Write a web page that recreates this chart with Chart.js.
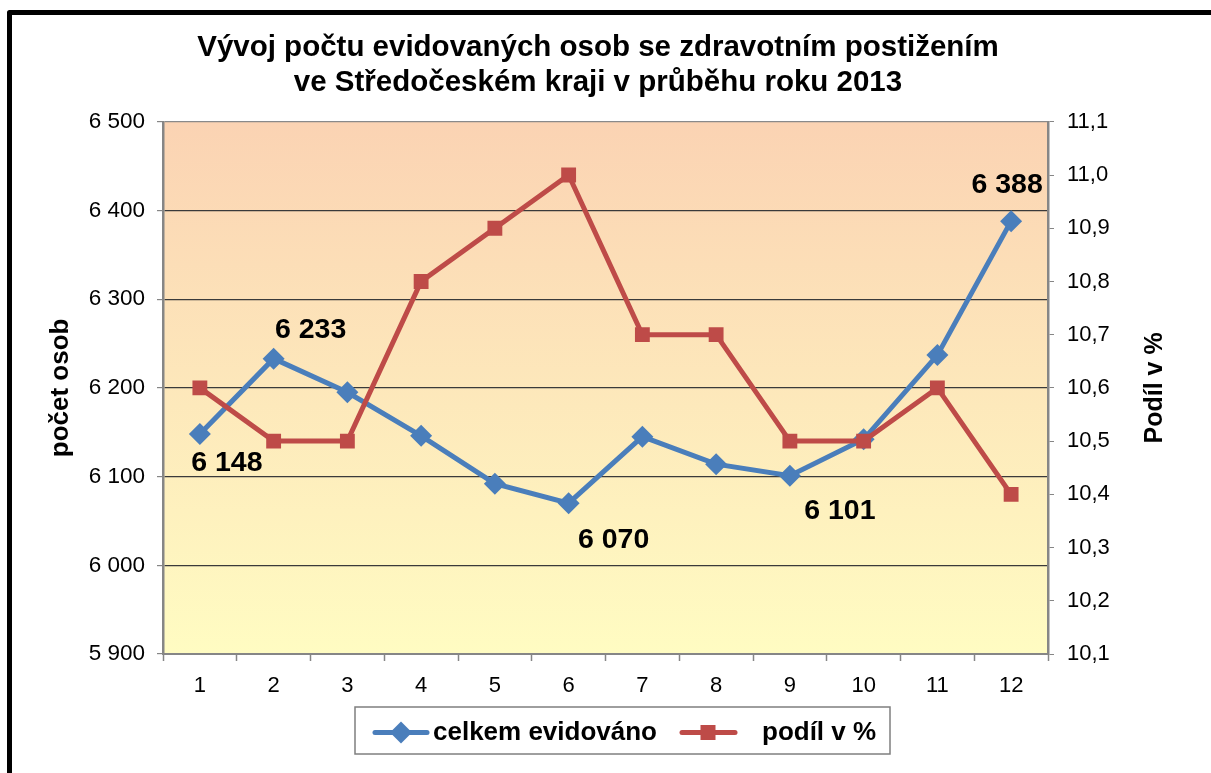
<!DOCTYPE html>
<html lang="cs">
<head>
  <meta charset="UTF-8" />
  <title>Vývoj počtu evidovaných osob se zdravotním postižením</title>
  <script src="https://cdn.jsdelivr.net/npm/chart.js"></script>
  <style>
    body { margin: 0; background: #fff; }
    #wrap { width: 1211px; height: 773px; position: relative; }
  </style>
</head>
<body>
  <div id="wrap"><canvas id="chart" width="1211" height="773"></canvas></div>

  <script>
    // data
    const months = ['1', '2', '3', '4', '5', '6', '7', '8', '9', '10', '11', '12'];
    const celkem = [6148, 6233, 6195, 6146, 6092, 6070, 6145, 6114, 6101, 6142, 6237, 6388];
    const podil = [10.6, 10.5, 10.5, 10.8, 10.9, 11.0, 10.7, 10.7, 10.5, 10.5, 10.6, 10.4];
    const labelledIdx = [0, 1, 5, 8, 11];          // points with a value label
    const titleLines = ['Vývoj počtu evidovaných osob se zdravotním postižením',
                        've Středočeském kraji v průběhu roku 2013'];

    const BLUE = '#4A7EBB';
    const RED = '#BE4B48';
    const FONT = '"Liberation Sans", Arial, sans-serif';

    // where the value labels sit relative to their point
    const labelOffset = { 0: [27, 29], 1: [37, -28], 5: [45, 37], 8: [50, 35], 11: [-4, -36] };

    const fmt = v => String(v).replace(/\B(?=(\d{3})+(?!\d))/g, ' ');

    const decor = {
      id: 'decor',
      beforeDraw(chart) {
        const { ctx, chartArea: a } = chart;
        const g = ctx.createLinearGradient(0, a.top, 0, a.bottom);
        g.addColorStop(0, '#FBD3B3');
        g.addColorStop(1, '#FFFCC2');
        ctx.save();
        ctx.fillStyle = g;
        ctx.fillRect(a.left, a.top, a.right - a.left, a.bottom - a.top);
        ctx.restore();
      },
      afterDraw(chart) {
        const { ctx, chartArea: a } = chart;
        ctx.save();

        // value labels
        const meta = chart.getDatasetMeta(1);
        ctx.font = 'bold 28.5px ' + FONT;
        ctx.fillStyle = '#000';
        ctx.textAlign = 'center';
        ctx.textBaseline = 'middle';
        labelledIdx.forEach(i => {
          const p = meta.data[i];
          const o = labelOffset[i];
          ctx.fillText(fmt(celkem[i]), p.x + o[0], p.y + o[1]);
        });

        // right axis title, reading bottom to top
        ctx.save();
        ctx.translate(1155, (a.top + a.bottom) / 2);
        ctx.rotate(-Math.PI / 2);
        ctx.font = 'bold 25px ' + FONT;
        ctx.fillText('Podíl v %', 0, 0);
        ctx.restore();

        // legend
        const lx = 355, ly = 707, lw = 535, lh = 47, cy = ly + lh / 2 + 2;
        ctx.fillStyle = '#fff';
        ctx.fillRect(lx, ly, lw, lh);
        ctx.strokeStyle = '#7f7f7f';
        ctx.lineWidth = 1.5;
        ctx.strokeRect(lx, ly, lw, lh);

        ctx.lineWidth = 5;
        ctx.lineCap = 'round';
        ctx.strokeStyle = BLUE;
        ctx.beginPath(); ctx.moveTo(375, cy); ctx.lineTo(427, cy); ctx.stroke();
        ctx.fillStyle = BLUE;
        ctx.beginPath();
        ctx.moveTo(401, cy - 11); ctx.lineTo(412, cy); ctx.lineTo(401, cy + 11); ctx.lineTo(390, cy);
        ctx.closePath(); ctx.fill();

        ctx.strokeStyle = RED;
        ctx.beginPath(); ctx.moveTo(682, cy); ctx.lineTo(735, cy); ctx.stroke();
        ctx.fillStyle = RED;
        ctx.fillRect(708 - 7.5, cy - 7.5, 15, 15);

        ctx.fillStyle = '#000';
        ctx.font = 'bold 26px ' + FONT;
        ctx.textAlign = 'left';
        ctx.fillText('celkem evidováno', 433, cy);
        ctx.fillText('podíl v %', 762, cy);

        // outer frame
        ctx.strokeStyle = '#000';
        ctx.lineWidth = 5;
        ctx.lineJoin = 'round';
        ctx.strokeRect(9.5, 12.5, 1400, 900);
        ctx.restore();
      }
    };

    const ctx = document.getElementById('chart').getContext('2d');
    const chart = new Chart(ctx, {
      type: 'line',
      data: {
        labels: months,
        datasets: [
          {
            label: 'podíl v %',
            data: podil,
            yAxisID: 'y1',
            borderColor: RED,
            backgroundColor: RED,
            borderWidth: 5,
            pointStyle: 'rect',
            pointRadius: 10.5,
            pointHoverRadius: 10.5,
            pointBorderWidth: 0,
            tension: 0,
            order: 0
          },
          {
            label: 'celkem evidováno',
            data: celkem,
            yAxisID: 'y',
            borderColor: BLUE,
            backgroundColor: BLUE,
            borderWidth: 5,
            pointStyle: 'rectRot',
            pointRadius: 11,
            pointHoverRadius: 11,
            pointBorderWidth: 0,
            tension: 0,
            order: 1
          }
        ]
      },
      options: {
        responsive: false,
        animation: false,
        layout: { padding: { left: 20, right: 35, top: 0, bottom: 0 } },
        plugins: {
          legend: { display: false },
          tooltip: { enabled: false },
          title: {
            display: true,
            text: titleLines,
            color: '#000',
            font: { family: FONT, size: 29.5, weight: 'bold', lineHeight: 1.2 },
            padding: { top: 30, bottom: 21 }
          }
        },
        scales: {
          x: {
            offset: true,
            grid: { offset: true, drawOnChartArea: false, tickLength: 7, tickColor: '#868686', tickWidth: 1.5 },
            border: { color: '#868686', width: 2 },
            ticks: { color: '#000', padding: 12, font: { family: FONT, size: 22 } },
            afterFit: s => { s.height = 119; }
          },
          y: {
            position: 'left',
            min: 5900,
            max: 6500,
            ticks: {
              stepSize: 100,
              color: '#000',
              padding: 12,
              font: { family: FONT, size: 22.5 },
              callback: v => fmt(v)
            },
            grid: {
              color: c => (c.tick && c.tick.value === 6500) ? '#8a8a8a' : '#3a3a3a',
              lineWidth: 1.2,
              tickLength: 6,
              tickColor: '#868686'
            },
            border: { color: '#868686', width: 2.5 },
            title: {
              display: true,
              text: 'počet osob',
              color: '#000',
              font: { family: FONT, size: 26, weight: 'bold' },
              padding: { top: 25, bottom: 0 }
            },
            afterFit: s => { s.width = 143; }
          },
          y1: {
            position: 'right',
            min: 10.1,
            max: 11.1,
            ticks: {
              stepSize: 0.1,
              color: '#000',
              padding: 13,
              font: { family: FONT, size: 22 },
              callback: v => v.toFixed(1).replace('.', ',')
            },
            grid: { drawOnChartArea: false, tickLength: 6, tickColor: '#868686' },
            border: { color: '#868686', width: 2.5 },
            afterFit: s => { s.width = 1211 - 35 - 1048; }
          }
        }
      },
      plugins: [decor]
    });
  </script>
</body>
</html>
